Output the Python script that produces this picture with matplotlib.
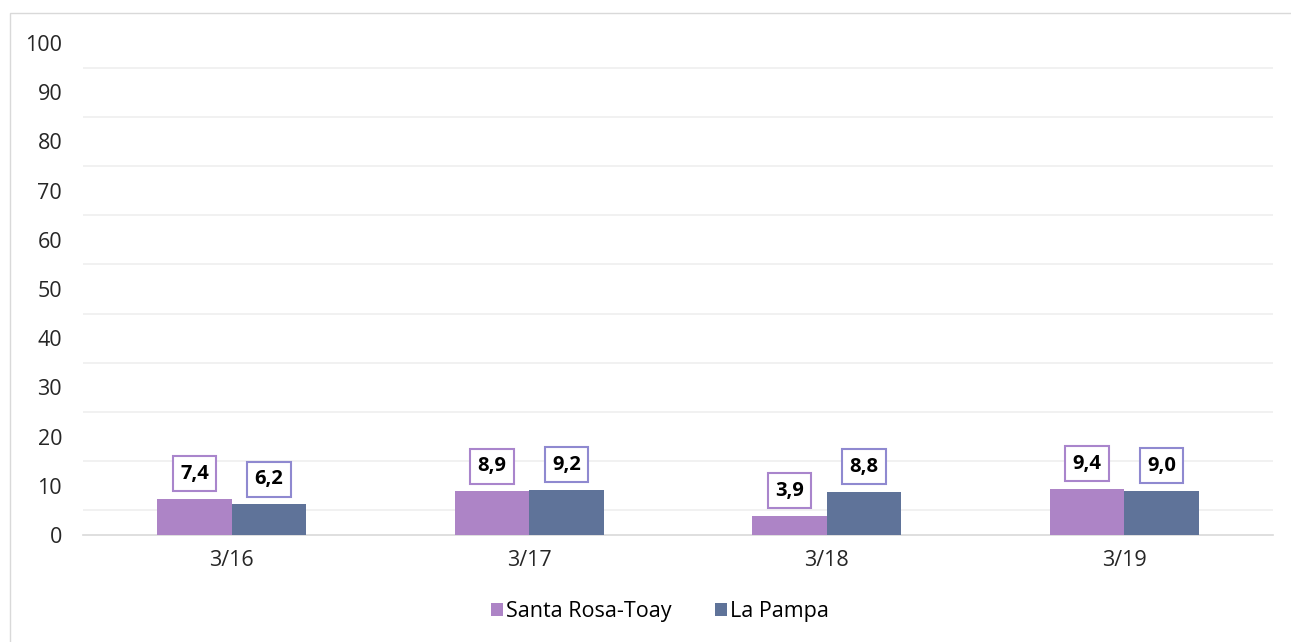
import matplotlib
matplotlib.use("Agg")
from matplotlib import pyplot as plt
from matplotlib.patches import Rectangle
import numpy as np

categories = ["3/16", "3/17", "3/18", "3/19"]
santa_rosa = [7.4, 8.9, 3.9, 9.4]
la_pampa = [6.2, 9.2, 8.8, 9.0]
series_names = ["Santa Rosa-Toay", "La Pampa"]
y_ticks = [0, 10, 20, 30, 40, 50, 60, 70, 80, 90, 100]

purple = "#ad84c6"
slate = "#5f7399"
box_colors = ["#a985cc", "#8f89d0"]

plt.rcParams['font.family'] = ['Open Sans', 'DejaVu Sans']

fig = plt.figure(figsize=(12.91, 6.42), dpi=100)
# outer chart border
fig.patches.append(Rectangle((10 / 1291, -0.1), 1.2, (642 - 13) / 642 + 0.1,
                             transform=fig.transFigure, fill=False,
                             edgecolor="#d9d9d9", lw=1.0))
ax = fig.add_axes([83 / 1291, 107 / 642, 1190 / 1291, 492 / 642])

x = np.arange(len(categories))
w = 0.25
b1 = ax.bar(x - w / 2, santa_rosa, w, color=purple, label=series_names[0], zorder=3)
b2 = ax.bar(x + w / 2, la_pampa, w, color=slate, label=series_names[1], zorder=3)

for bars, vals, ec in [(b1, santa_rosa, box_colors[0]), (b2, la_pampa, box_colors[1])]:
    for rect, v in zip(bars, vals):
        ax.annotate(("%.1f" % v).replace(".", ","),
                    (rect.get_x() + rect.get_width() / 2, v),
                    xytext=(0, 18), textcoords="offset points",
                    ha="center", va="center", fontsize=14.5, fontweight="bold",
                    color="black",
                    bbox=dict(boxstyle="square,pad=0.37", fc="white", ec=ec, lw=1.5),
                    zorder=5)

ax.set_xlim(-0.5, 3.5)
ax.set_ylim(0, 100)
ax.set_yticks(y_ticks)
ax.set_xticks(x)
ax.set_xticklabels(categories)
# gridlines sit half way between the labels
for g in np.arange(5, 100, 10):
    ax.axhline(g, color="#efefef", lw=1.2, zorder=0)

for s in ["top", "right", "left"]:
    ax.spines[s].set_visible(False)
ax.spines["bottom"].set_color("#d9d9d9")
ax.spines["bottom"].set_linewidth(1.2)
ax.tick_params(axis="both", length=0, labelsize=15.5, colors="#262626")
ax.tick_params(axis="x", pad=11)
ax.tick_params(axis="y", pad=15)

fig.legend(loc="center", bbox_to_anchor=(660 / 1291, 1 - 612 / 642), ncol=2,
           frameon=False, fontsize=15.5, handlelength=0.55, handleheight=0.55,
           handletextpad=0.15, columnspacing=2.0)

plt.savefig("out.png", dpi=100)
